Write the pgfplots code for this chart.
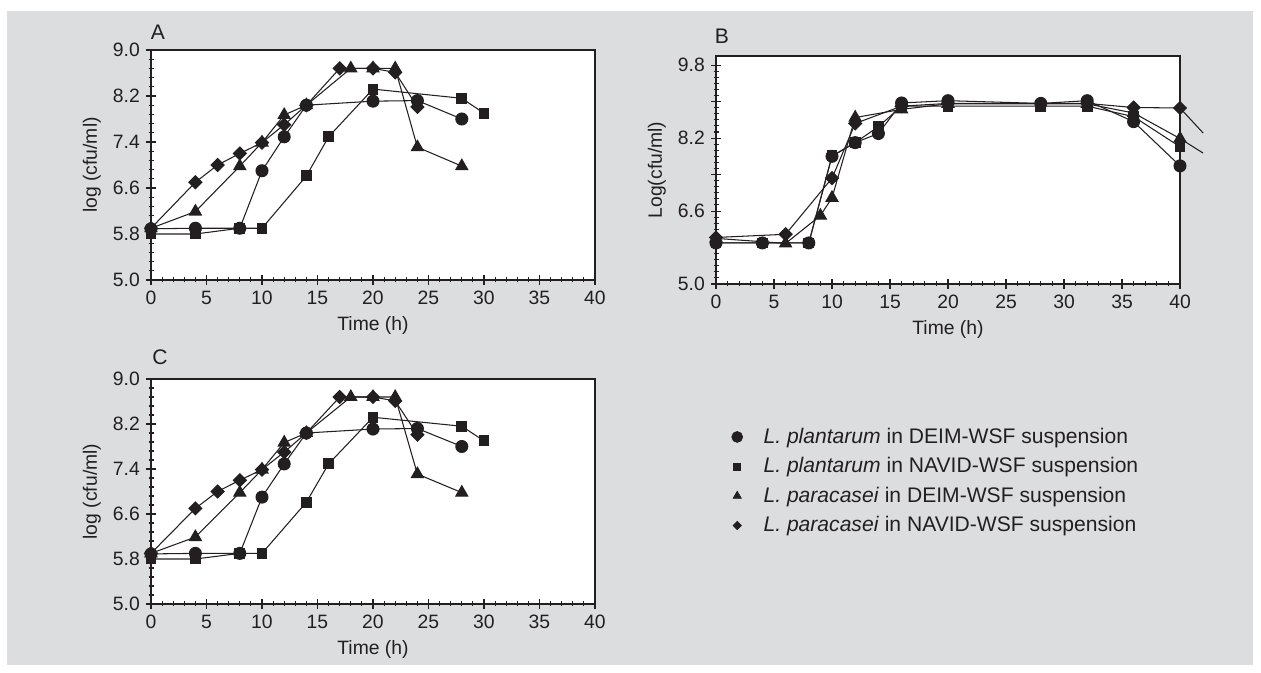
\documentclass[border=0pt]{standalone}
\usepackage{fontspec}
\setmainfont{Liberation Sans}
\usepackage{pgfplots}
\usepackage{pgfplotstable}
\pgfplotsset{compat=1.18}

\definecolor{bg}{HTML}{DCDDDF}
\definecolor{ink}{HTML}{231F20}

% panels A and C (same data)
\pgfplotstableread{
x y
0 5.89
4 5.90
8 5.90
10 6.90
12 7.49
14 8.04
20 8.11
24 8.12
28 7.80
}\Acirc
\pgfplotstableread{
x y
0 5.80
4 5.80
8 5.90
10 5.90
14 6.81
16 7.49
20 8.32
28 8.16
30 7.90
}\Asq
\pgfplotstableread{
x y
0 5.90
4 6.19
8 6.98
10 7.39
12 7.87
14 8.04
18 8.68
20 8.68
22 8.68
24 7.31
28 6.98
}\Atri
\pgfplotstableread{
x y
0 5.90
4 6.70
6 7.00
8 7.20
10 7.39
12 7.70
14 8.04
17 8.68
20 8.68
22 8.61
24 8.01
}\Adia

% panel B
\pgfplotstableread{
x y
0 5.90
4 5.90
8 5.90
10 7.80
12 8.10
14 8.30
16 8.97
20 9.02
28 8.96
32 9.02
36 8.56
40 7.59
}\Bcirc
\pgfplotstableread{
x y
0 5.90
4 5.90
8 5.90
10 7.81
12 8.10
14 8.45
16 8.90
20 8.90
28 8.90
32 8.90
36 8.67
40 8.01
}\Bsq
\pgfplotstableread{
x y
0 6.00
6 5.89
9 6.50
10 6.89
12 8.65
16 8.83
20 8.95
32 8.95
36 8.75
40 8.19
}\Btri
\pgfplotstableread{
x y
0 6.02
6 6.09
10 7.32
12 8.52
16 8.90
20 8.96
32 8.96
36 8.87
40 8.86
}\Bdia

\pgfplotsset{
  panel/.style={
    scale only axis,
    axis background/.style={fill=white},
    xmin=0, xmax=40, xtick={0,5,...,40}, minor x tick num=4,
    tick pos=left, tick align=center,
    major tick length=0.2cm, minor tick length=0.1cm,
    axis line style={ink, line width=0.7pt},
    tick style={ink, line width=0.6pt},
    every tick label/.append style={font=\fontsize{11}{13}\selectfont, text=ink},
    label style={font=\fontsize{11}{13}\selectfont, text=ink},
    /pgf/number format/assume math mode=true,
    yticklabel style={/pgf/number format/.cd, fixed, fixed zerofill, precision=1},
    xlabel={Time (h)},
  },
  circ/.style={ink, line width=0.6pt, mark=*, mark size=3.4pt, mark options={fill=ink}},
  sq/.style={ink, line width=0.6pt, mark=square*, mark size=2.8pt, mark options={fill=ink}},
  tri/.style={ink, line width=0.6pt, mark=triangle*, mark size=3.9pt, mark options={fill=ink}},
  dia/.style={ink, line width=0.6pt, mark=square*, mark size=2.6pt, mark options={fill=ink, rotate=45}},
}

\begin{document}
\begin{tikzpicture}
\useasboundingbox (0,0) rectangle (25.22,13.46);
\fill[bg] (0.14,0.16) rectangle (25.06,13.24);

% ---- A ----
\begin{axis}[panel, at={(3.02cm,7.86cm)}, anchor=south west,
  width=8.88cm, height=4.6cm,
  ymin=5, ymax=9, ytick={5.0,5.8,6.6,7.4,8.2,9.0}, minor y tick num=4,
  ylabel={log (cfu/ml)}]
\addplot[sq] table {\Asq};
\addplot[tri] table {\Atri};
\addplot[dia] table {\Adia};
\addplot[circ] table {\Acirc};
\end{axis}

% ---- B ----
\begin{axis}[panel, at={(14.32cm,7.78cm)}, anchor=south west,
  width=9.28cm, height=4.56cm, clip=false,
  ymin=5, ymax=10, ytick={5.0,5.8,6.6,7.4,8.2,9.0,9.8},
  yticklabels={5.0,,6.6,,8.2,,9.8}, minor y tick num=5,
  ylabel={Log(cfu/ml)}]
\addplot[tri] table {\Btri};
\addplot[dia] table {\Bdia};
\addplot[circ] table {\Bcirc};
\addplot[sq] table {\Bsq};
\addplot[ink, line width=0.6pt] coordinates {(40,8.86) (42,8.31)};
\addplot[ink, line width=0.6pt] coordinates {(40,8.19) (42,7.87)};
\end{axis}

% ---- C ----
\begin{axis}[panel, at={(3.02cm,1.38cm)}, anchor=south west,
  width=8.88cm, height=4.5cm,
  ymin=5, ymax=9, ytick={5.0,5.8,6.6,7.4,8.2,9.0}, minor y tick num=4,
  ylabel={log (cfu/ml)},
  legend cell align=left,
  legend image code/.code={\path (0,0) (0.6cm,0); \draw[#1] plot coordinates {(0.15cm,0cm)};},
  legend style={at={(axis description cs:1.29,0.815)}, anchor=north west,
    draw=none, fill=none, font=\fontsize{12}{14}\selectfont, text=ink, row sep=2.6pt}]
\addlegendimage{only marks, ink, mark=*, mark size=3.1pt}
\addlegendentry{\textit{L. plantarum} in DEIM-WSF suspension}
\addlegendimage{only marks, ink, mark=square*, mark size=2pt}
\addlegendentry{\textit{L. plantarum} in NAVID-WSF suspension}
\addlegendimage{only marks, ink, mark=triangle*, mark size=2.7pt}
\addlegendentry{\textit{L. paracasei} in DEIM-WSF suspension}
\addlegendimage{only marks, ink, mark=square*, mark size=1.7pt, mark options={rotate=45}}
\addlegendentry{\textit{L. paracasei} in NAVID-WSF suspension}
\addplot[sq, forget plot] table {\Asq};
\addplot[tri, forget plot] table {\Atri};
\addplot[dia, forget plot] table {\Adia};
\addplot[circ, forget plot] table {\Acirc};
\end{axis}

\node[font=\fontsize{12}{14}\selectfont, text=ink] at (3.16,12.82) {A};
\node[font=\fontsize{12}{14}\selectfont, text=ink] at (14.44,12.74) {B};
\node[font=\fontsize{12}{14}\selectfont, text=ink] at (3.20,6.32) {C};
\end{tikzpicture}
\end{document}
